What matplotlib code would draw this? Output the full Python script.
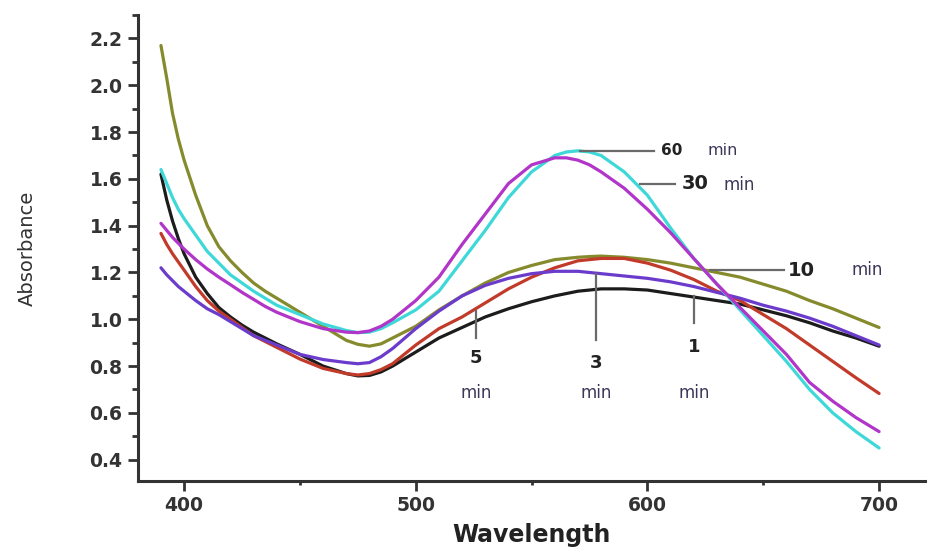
import numpy as np
import matplotlib.pyplot as plt
from matplotlib.ticker import MultipleLocator

# wavelength grid (nm) and absorbance
wavelength = [390, 392.5, 395, 397.5, 400, 405, 410, 415, 420, 425, 430, 435, 440, 450,
              460, 470, 475, 480, 485, 490, 500, 510, 520, 530, 540, 550, 560, 565, 570, 575, 580,
              590, 600, 610, 620, 630, 640, 650, 660, 670, 680, 690, 700]

abs_1min = [1.62, 1.51, 1.42, 1.345, 1.28, 1.18, 1.11, 1.05, 1.01, 0.975, 0.945, 0.92, 0.895, 0.85,
            0.80, 0.768, 0.758, 0.76, 0.775, 0.80, 0.86, 0.92, 0.965, 1.01, 1.045, 1.075, 1.10, 1.11,
            1.12, 1.125, 1.13,
            1.13, 1.125, 1.11, 1.095, 1.08, 1.065, 1.04, 1.015, 0.985, 0.95, 0.92, 0.885]
abs_3min = [1.22, 1.19, 1.165, 1.14, 1.12, 1.08, 1.045, 1.02, 0.99, 0.96, 0.93, 0.91, 0.89, 0.85,
            0.828, 0.815, 0.81, 0.815, 0.84, 0.875, 0.96, 1.035, 1.10, 1.145, 1.175, 1.195, 1.205, 1.205,
            1.205, 1.20, 1.195,
            1.185, 1.175, 1.16, 1.14, 1.115, 1.09, 1.06, 1.035, 1.005, 0.97, 0.93, 0.89]
abs_5min = [1.367, 1.32, 1.28, 1.245, 1.21, 1.14, 1.08, 1.035, 1.00, 0.965, 0.93, 0.905, 0.88, 0.83,
            0.79, 0.768, 0.762, 0.768, 0.785, 0.81, 0.89, 0.96, 1.01, 1.07, 1.13, 1.18, 1.22, 1.235,
            1.25, 1.255, 1.26,
            1.26, 1.24, 1.21, 1.17, 1.12, 1.08, 1.02, 0.96, 0.89, 0.82, 0.75, 0.683]
abs_10min = [2.17, 2.03, 1.88, 1.77, 1.68, 1.53, 1.40, 1.31, 1.25, 1.20, 1.155, 1.12, 1.09, 1.03,
             0.97, 0.91, 0.893, 0.885, 0.895, 0.92, 0.97, 1.04, 1.10, 1.155, 1.20, 1.23, 1.255, 1.26,
             1.265, 1.268, 1.27,
             1.265, 1.255, 1.24, 1.22, 1.20, 1.18, 1.15, 1.12, 1.08, 1.045, 1.005, 0.965]
abs_30min = [1.41, 1.38, 1.35, 1.325, 1.30, 1.255, 1.215, 1.18, 1.148, 1.115, 1.085, 1.055, 1.03, 0.99,
             0.96, 0.945, 0.943, 0.95, 0.97, 1.00, 1.08, 1.18, 1.32, 1.45, 1.58, 1.66, 1.69, 1.69,
             1.68, 1.66, 1.63,
             1.56, 1.47, 1.37, 1.26, 1.15, 1.05, 0.95, 0.85, 0.73, 0.65, 0.58, 0.52]
abs_60min = [1.64, 1.58, 1.52, 1.47, 1.43, 1.36, 1.29, 1.24, 1.19, 1.155, 1.12, 1.09, 1.06, 1.02,
             0.98, 0.952, 0.943, 0.945, 0.96, 0.985, 1.04, 1.12, 1.25, 1.38, 1.52, 1.63, 1.70, 1.715,
             1.72, 1.715, 1.70,
             1.63, 1.53, 1.39, 1.26, 1.15, 1.04, 0.93, 0.82, 0.70, 0.60, 0.52, 0.45]

fig = plt.figure(figsize=(9.31, 5.59), dpi=100)
ax = fig.add_axes([0.148, 0.14, 0.846, 0.833])

style = dict(lw=2.3, solid_joinstyle='round', solid_capstyle='round')
ax.plot(wavelength, abs_10min, color='#858b2c', **style)
ax.plot(wavelength, abs_1min, color='#1c1c1c', **style)
ax.plot(wavelength, abs_5min, color='#c23a2a', **style)
ax.plot(wavelength, abs_3min, color='#6b3ccc', **style)
ax.plot(wavelength, abs_60min, color='#3fd8d8', **style)
ax.plot(wavelength, abs_30min, color='#b035c8', **style)

ax.set_xlim(380, 720)
ax.set_ylim(0.31, 2.30)
ax.xaxis.set_major_locator(MultipleLocator(100))
ax.xaxis.set_minor_locator(MultipleLocator(50))
ax.yaxis.set_major_locator(MultipleLocator(0.2))
ax.yaxis.set_minor_locator(MultipleLocator(0.1))
ax.yaxis.set_major_formatter(plt.FuncFormatter(lambda v, p: f'{v:.1f}'))

for s in ['top', 'right']:
    ax.spines[s].set_visible(False)
for s in ['left', 'bottom']:
    ax.spines[s].set_linewidth(2.2)
    ax.spines[s].set_color('#333333')

ax.tick_params(which='major', length=7, width=2, color='#333333', labelsize=13.5,
               labelcolor='#333333', pad=4)
ax.tick_params(which='minor', length=4, width=2, color='#333333')
ax.tick_params(axis='x', which='minor', length=3)
for lab in ax.get_xticklabels() + ax.get_yticklabels():
    lab.set_fontweight('bold')

ax.set_xlabel('Wavelength', fontsize=17, fontweight='bold', color='#222222', labelpad=6)
ax.set_ylabel('Absorbance', fontsize=14, color='#333333', labelpad=38)

lead = '#6a6a6a'
num_c = '#222222'
min_c = '#3e3658'

# horizontal leaders
ax.plot([571, 603], [1.72, 1.72], color=lead, lw=1.6)
ax.text(606, 1.72, '60', fontsize=11, fontweight='bold', color=num_c, va='center')
ax.text(626, 1.72, 'min', fontsize=11.5, color=min_c, va='center')

ax.plot([597, 612], [1.58, 1.58], color=lead, lw=1.6)
ax.text(615, 1.58, '30', fontsize=14, fontweight='bold', color=num_c, va='center')
ax.text(633, 1.575, 'min', fontsize=12, color=min_c, va='center')

ax.plot([627, 659], [1.21, 1.21], color=lead, lw=1.6)
ax.text(660.5, 1.21, '10', fontsize=14, fontweight='bold', color=num_c, va='center')
ax.text(688, 1.21, 'min', fontsize=12, color=min_c, va='center')

# vertical leaders
ax.plot([526, 526], [1.035, 0.92], color=lead, lw=1.6)
ax.text(526, 0.835, '5', fontsize=13, fontweight='bold', color=num_c, ha='center', va='center')
ax.text(526, 0.687, 'min', fontsize=12, color=min_c, ha='center', va='center')

ax.plot([578, 578], [1.195, 0.91], color=lead, lw=1.6)
ax.text(578, 0.815, '3', fontsize=13, fontweight='bold', color=num_c, ha='center', va='center')
ax.text(578, 0.687, 'min', fontsize=12, color=min_c, ha='center', va='center')

ax.plot([620, 620], [1.10, 0.985], color=lead, lw=1.6)
ax.text(620, 0.88, '1', fontsize=13, fontweight='bold', color=num_c, ha='center', va='center')
ax.text(620, 0.687, 'min', fontsize=12, color=min_c, ha='center', va='center')

fig.savefig('out.png', dpi=100)
